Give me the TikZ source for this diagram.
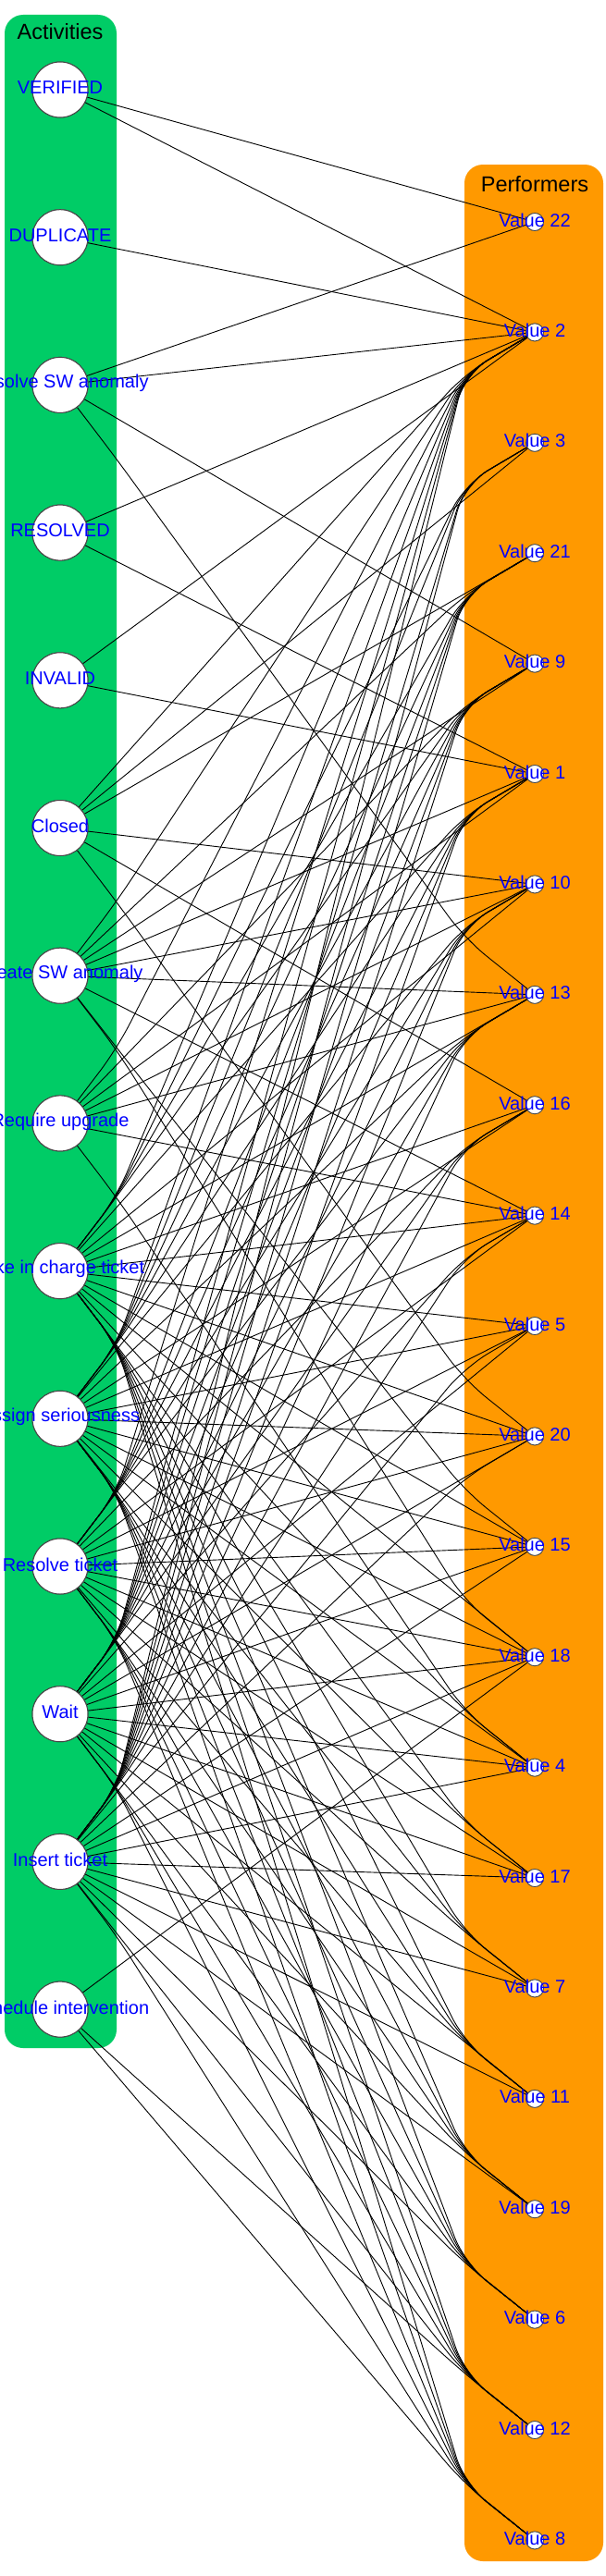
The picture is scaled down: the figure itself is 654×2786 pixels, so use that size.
\documentclass[tikz,border=0pt]{standalone}
\usepackage{fontspec}
\setmainfont{Liberation Sans}
\definecolor{actgreen}{RGB}{0,204,102}
\definecolor{perforange}{RGB}{255,153,0}
\definecolor{lblblue}{RGB}{0,0,255}
\definecolor{ringgray}{RGB}{70,70,70}
\newcommand\E[2]{%
  \pgfmathsetmacro\Eya{97+159.7*#1}%
  \pgfmathsetmacro\Eyp{240+119.4*#2}%
  \pgfmathsetmacro\Edy{\Eyp-\Eya}%
  \pgfmathtruncatemacro\Epf{(\Edy>422)?1:((\Edy<-422)?-1:0)}%
  \ifnum\Epf=1 \pgfmathsetmacro\Eby{\Eyp-61}\def\Ebx{502}\fi
  \ifnum\Epf=-1 \pgfmathsetmacro\Eby{\Eyp+45}\def\Ebx{502}\fi
  \ifnum\Epf=0 \let\Eby\Eyp \def\Ebx{578}\fi
  \pgfmathsetmacro\Eh{(\Eby-\Eya)/(\Ebx-65)*61}%
  \pgfmathtruncatemacro\Eaf{(\Eh>80)?1:((\Eh<-80)?-1:0)}%
  \def\Epath{}%
  \ifnum\Eaf=1 \pgfmathsetmacro\Eay{\Eya+80}\edef\Epath{-- (126,\Eay)}\fi
  \ifnum\Eaf=-1 \pgfmathsetmacro\Eay{\Eya-80}\edef\Epath{-- (126,\Eay)}\fi
  \ifnum\Epf=0 \else \edef\Epath{\Epath\space -- (502,\Eby)}\fi
  \edef\Etmp{\noexpand\draw[edge] (a#1) \Epath\space -- (p#2);}%
  \Etmp
}
\begin{document}
\begin{tikzpicture}[x=1pt,y=-1pt,
  cluster/.style={rounded corners=20pt},
  title/.style={font=\fontsize{23.5}{26}\selectfont, text=black},
  actnode/.style={circle, fill=white, draw=ringgray, line width=1pt, minimum size=60pt, inner sep=0pt},
  pernode/.style={circle, fill=white, draw=ringgray, line width=0.8pt, minimum size=19pt, inner sep=0pt},
  lbl/.style={font=\fontsize{20}{22}\selectfont, text=lblblue, inner sep=0pt},
  edge/.style={draw=black, line width=0.9pt, rounded corners=30pt}]
\useasboundingbox (0,0) rectangle (654,2786);
\fill[white] (0,0) rectangle (654,2786);
\fill[actgreen, cluster] (5,16) rectangle (126,2215);
\fill[perforange, cluster] (502,178) rectangle (652,2770);
\node[title] (tact) at (65,34) {Activities};
\node[title] (tper) at (578,199) {Performers};
% activity nodes
\foreach \i/\t in {0/VERIFIED,1/DUPLICATE,2/Resolve SW anomaly,3/RESOLVED,4/INVALID,5/Closed,6/Create SW anomaly,7/Require upgrade,8/Take in charge ticket,9/Assign seriousness,10/Resolve ticket,11/Wait,12/Insert ticket,13/Schedule intervention}{
  \pgfmathsetmacro\yy{97+159.7*\i}
  \node[actnode] (a\i) at (65,\yy) {};
}
\foreach \j/\t in {0/22,1/2,2/3,3/21,4/9,5/1,6/10,7/13,8/16,9/14,10/5,11/20,12/15,13/18,14/4,15/17,16/7,17/11,18/19,19/6,20/12,21/8}{
  \pgfmathsetmacro\yy{240+119.4*\j}
  \node[pernode] (p\j) at (578,\yy) {};
}
% edges
\foreach \i/\j in {0/0,0/1,1/1,2/0,2/1,2/4,2/7,3/1,3/5,4/1,4/5,
  5/1,5/2,5/3,5/6,5/8,5/11,
  6/1,6/3,6/4,6/5,6/6,6/7,6/9,6/12,6/13,
  7/1,7/4,7/5,7/6,7/7,7/9,7/14,
  13/13,13/20,13/21,
  8/2,9/2,11/2,12/2}{\E{\i}{\j}}
\foreach \i in {8,9,10,11,12}{
  \foreach \j in {1,3,4,5,6,7,8,9,10,11,12,13,14,15,16,17,18,19,20,21}{\E{\i}{\j}}
}
% redraw nodes on top
\foreach \i/\t in {0/VERIFIED,1/DUPLICATE,2/Resolve SW anomaly,3/RESOLVED,4/INVALID,5/Closed,6/Create SW anomaly,7/Require upgrade,8/Take in charge ticket,9/Assign seriousness,10/Resolve ticket,11/Wait,12/Insert ticket,13/Schedule intervention}{
  \pgfmathsetmacro\yy{97+159.7*\i}
  \node[actnode] at (65,\yy) {};
  \node[lbl] (la\i) at (65,\yy-2) {\t};
}
\foreach \j/\t in {0/22,1/2,2/3,3/21,4/9,5/1,6/10,7/13,8/16,9/14,10/5,11/20,12/15,13/18,14/4,15/17,16/7,17/11,18/19,19/6,20/12,21/8}{
  \pgfmathsetmacro\yy{240+119.4*\j}
  \node[pernode] at (578,\yy) {};
  \node[lbl] (lp\j) at (578,\yy-2) {Value \t};
}
\end{tikzpicture}
\end{document}
